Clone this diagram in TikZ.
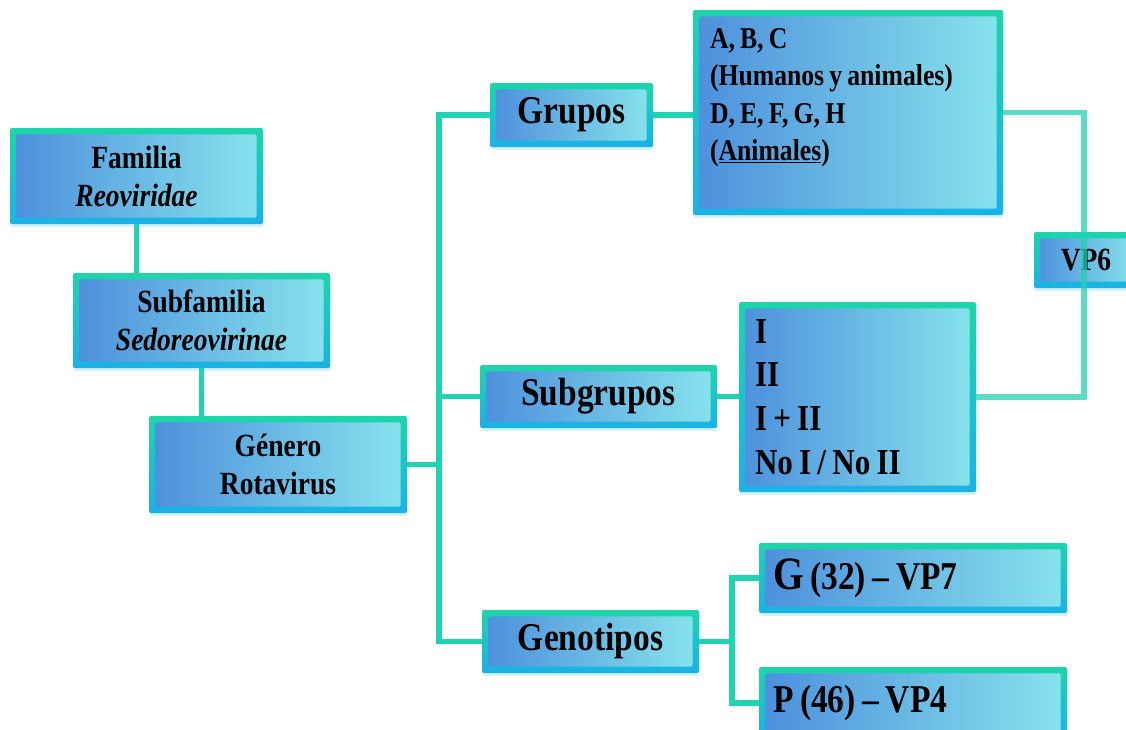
\documentclass[tikz,border=0pt]{standalone}
\usepackage{fontspec}
\setmainfont{Liberation Serif}[FakeStretch=0.85]
\usetikzlibrary{positioning, shadows}
\definecolor{edgeteal}{HTML}{1ED5A9}
\definecolor{edgeblue}{HTML}{1AB2E6}
\definecolor{fillblue}{HTML}{4C8FDC}
\definecolor{fillcyan}{HTML}{88E4EC}
\definecolor{linkteal}{HTML}{22D3B2}
\newcommand\tightspaces{\frenchspacing\spaceskip=0.17em plus 0.05em\relax}
\tikzset{
  font=\bfseries,
  vbox/.style 2 args  = {minimum width=#1*0.025cm, minimum height=#2*0.025cm,
                         inner sep=0pt, rounded corners=1.5pt,
                         top color=edgeteal, bottom color=edgeblue,
                         execute at begin node=\tightspaces,
                         drop shadow={shadow xshift=0.5pt, shadow yshift=-2pt,
                                      fill=edgeblue!40, opacity=0.45},
                         path picture={\shade[left color=fillblue, right color=fillcyan]
                           ([shift={(4.5pt,-4.5pt)}]path picture bounding box.north west)
                           rectangle
                           ([shift={(-4.5pt,4.5pt)}]path picture bounding box.south east);}},
  txtleft/.style      = {align=left, text width=#1*0.025cm},
  lvltxt/.style       = {font=\fontsize{23}{27}\selectfont\bfseries, align=center},
  cattxt/.style       = {font=\fontsize{28}{34}\selectfont\bfseries},
  grptxt/.style       = {font=\fontsize{21.5}{26.5}\selectfont\bfseries},
  sgtxt/.style        = {font=\fontsize{26}{31}\selectfont\bfseries},
  gptxt/.style        = {font=\fontsize{28}{30}\selectfont\bfseries},
  link/.style         = {draw=linkteal, line width=4pt}
}

\begin{document}
\begin{tikzpicture}[x=0.025cm, y=-0.025cm]
  \useasboundingbox (0,0) rectangle (1126,730);
  % taxonomy column
  \node[vbox={253}{96}, lvltxt] (fam) at (136.5,176) {Familia\\\textit{Reoviridae}};
  \node[vbox={257}{95}, lvltxt] (sub) at (201.5,320.5) {Subfamilia\\\textit{Sedoreovirinae}};
  \node[vbox={258}{97}, lvltxt] (gen) at (278,464.5) {Género\\Rotavirus};
  % classification
  \node[vbox={163}{64}, cattxt] (gru) at (571.5,115) {Grupos};
  \node[vbox={237}{63}, cattxt] (subg) at (598.5,396.5) {Subgrupos};
  \node[vbox={217}{63}, cattxt] (geno) at (590.5,641.5) {Genotipos};
  % detail boxes
  \node[vbox={310}{205}, grptxt, txtleft=276] (grp) at (848,112.5)
    {A, B, C\\(Humanos y animales)\\D, E, F, G, H\\(\underline{Animales})\\[-1pt] \mbox{}};
  \node[vbox={237}{190}, sgtxt, txtleft=205] (sgb) at (857.5,397)
    {I\\II\\I + II\\No I / No II};
  \node[vbox={104}{56}, font=\fontsize{23}{28}\selectfont\bfseries] (vp) at (1086,260) {VP6};
  \node[vbox={308}{70}, gptxt, txtleft=280] (gb) at (913,578)
    {{\fontsize{33}{34}\selectfont G} (32) -- VP7};
  \node[vbox={308}{72}, gptxt, txtleft=280] (pb) at (913,703) {P (46) -- VP4};
  % connectors
  \coordinate (tr) at (439,0);
  \coordinate (br) at (732,0);
  \coordinate (vl) at (1084,0);
  \draw[link] (fam.south) -- (fam.south |- sub.north);
  \draw[link] (sub.south) -- (sub.south |- gen.north);
  \draw[link] (gen.east) -- (tr |- gen.east);
  \draw[link] (gru.west) -| (tr |- geno.west) -- (geno.west);
  \draw[link] (tr |- subg.west) -- (subg.west);
  \draw[link] (gru.east) -- (gru.east -| grp.west);
  \draw[link] (subg.east) -- (subg.east -| sgb.west);
  \draw[link] (geno.east) -- (br |- geno.east);
  \draw[link] (gb.west) -| (br |- pb.west) -- (pb.west);
  \draw[link, opacity=0.75] (grp.east) -| (vl |- sgb.east) -- (sgb.east);
\end{tikzpicture}
\end{document}
